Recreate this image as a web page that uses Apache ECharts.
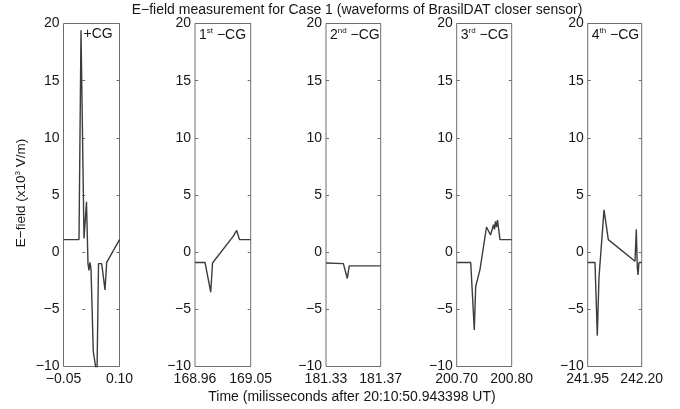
<!DOCTYPE html>
<html>
<head>
<meta charset="utf-8">
<script src="https://cdn.jsdelivr.net/npm/echarts@6/dist/echarts.min.js"></script>
<style>
  html, body { margin: 0; padding: 0; background: #fff; }
  #chart { width: 680px; height: 409px; }
</style>
</head>
<body>
<div id="chart"></div>
<script>
// Stroke labels (ordinal + superscript suffix + polarity)
const strokeNumber = ['', '1', '2', '3', '4'];
const strokeSuffix = ['', 'st', 'nd', 'rd', 'th'];
const strokeType = ['+CG', '−CG', '−CG', '−CG', '−CG'];

// Time window of each panel (ms after 20:10:50.943398 UT)
const timeMin = [-0.05, 168.96, 181.33, 200.70, 241.95];
const timeMax = [0.10, 169.05, 181.37, 200.80, 242.20];

// E-field tick values (x10^3 V/m)
const fieldTicks = [-10, -5, 0, 5, 10, 15, 20];

// +CG
const time1 = [-0.05, -0.0085, -0.0031, 0.0049, 0.0116, 0.0156, 0.0183, 0.0210, 0.0237, 0.0298, 0.0397, 0.0438, 0.0523, 0.0612, 0.0657, 0.10];
const field1 = [1.1, 1.1, 19.4, 1.2, 4.4, -1.0, -1.6, -0.9, -1.5, -8.7, -10.8, -1.0, -1.0, -3.3, -0.9, 1.1];

// 1st -CG
const time2 = [168.96, 168.9762, 168.9794, 168.9854, 168.9883, 169.0219, 169.0274, 169.0319, 169.05];
const field2 = [-0.9, -0.9, -1.0, -3.5, -0.95, 1.4, 1.9, 1.1, 1.1];

// 2nd -CG
const time3 = [181.33, 181.3427, 181.3439, 181.3456, 181.3470, 181.37];
const field3 = [-0.95, -1.0, -1.1, -2.3, -1.2, -1.2];

// 3rd -CG
const time4 = [200.70, 200.7255, 200.7320, 200.7345, 200.7424, 200.7542, 200.7615, 200.7669, 200.7687, 200.7705, 200.7724, 200.7742, 200.7787, 200.80];
const field4 = [-0.9, -0.9, -6.8, -3.0, -1.5, 2.2, 1.5, 2.4, 2.0, 2.7, 2.2, 2.8, 1.1, 1.1];

// 4th -CG
const time5 = [241.95, 241.9838, 241.9944, 242.0023, 242.0255, 242.0454, 242.169, 242.175, 242.1796, 242.1829, 242.1875, 242.20];
const field5 = [-0.9, -0.9, -7.3, -2.2, 3.7, 1.1, -0.8, 2.0, -1.3, -2.0, -0.9, -0.9];

const times = [time1, time2, time3, time4, time5];
const fields = [field1, field2, field3, field4, field5];

const FONT = '"Liberation Sans", Arial, Helvetica, sans-serif';
const TEXT = '#161616';
const BOX = '#6e6e6e';
const TRACE = '#3c3c3c';

const panelLeft = [63.5, 195, 326, 456.7, 587.7];
const panelWidth = [56, 55.7, 54.7, 55, 54];
const panelTop = 23.5;
const panelHeight = 343;

const fmtNum = (v, d) => {
  const s = Math.abs(v).toFixed(d);
  return (v < 0 ? '−' : '') + s;
};

const grids = [], xAxes = [], yAxes = [], series = [], graphics = [];

for (let i = 0; i < 5; i++) {
  grids.push({
    left: panelLeft[i], top: panelTop, width: panelWidth[i], height: panelHeight,
    show: true, borderColor: BOX, borderWidth: 1, backgroundColor: '#fff'
  });
  xAxes.push({
    type: 'value', gridIndex: i, min: timeMin[i], max: timeMax[i],
    axisLine: { show: false }, splitLine: { show: false },
    axisTick: { show: false },
    axisLabel: {
      customValues: [timeMin[i], timeMax[i]],
      formatter: v => fmtNum(v, 2),
      fontFamily: FONT, fontSize: 14, color: TEXT, margin: 6,
      showMinLabel: true, showMaxLabel: true
    }
  });
  yAxes.push({
    type: 'value', gridIndex: i, min: -10, max: 20, interval: 5,
    axisLine: { show: false }, splitLine: { show: false },
    axisTick: { show: true, inside: true, length: 3, lineStyle: { color: BOX } },
    axisLabel: {
      customValues: fieldTicks,
      formatter: v => fmtNum(v, 0),
      fontFamily: FONT, fontSize: 14, color: TEXT, margin: 4
    }
  });
  yAxes.push({
    type: 'value', gridIndex: i, position: 'right', min: -10, max: 20, interval: 5,
    axisLine: { show: false }, splitLine: { show: false },
    axisTick: { show: true, inside: true, length: 3, lineStyle: { color: BOX } },
    axisLabel: { show: false }
  });
  series.push({
    type: 'line', xAxisIndex: i, yAxisIndex: 2 * i,
    data: times[i].map((t, k) => [t, fields[i][k]]),
    showSymbol: false, symbol: 'none', clip: true,
    lineStyle: { color: TRACE, width: 1.4 },
    animation: false
  });
  const richText = strokeNumber[i]
    ? '{n|' + strokeNumber[i] + '}{s|' + strokeSuffix[i] + '}{n| ' + strokeType[i] + '}'
    : '{n|' + strokeType[i] + '}';
  graphics.push({
    type: 'text',
    left: panelLeft[i] + (i === 0 ? 20 : 4),
    top: 27,
    style: {
      text: richText,
      rich: {
        n: { fontFamily: FONT, fontSize: 14, fill: TEXT, verticalAlign: 'bottom' },
        s: { fontFamily: FONT, fontSize: 8, fill: TEXT, verticalAlign: 'top', padding: [0, 0, 7, 0] }
      }
    }
  });
}

graphics.push({
  type: 'text', x: 357, y: 3,
  style: {
    text: 'E−field measurement for Case 1 (waveforms of BrasilDAT closer sensor)',
    fontFamily: FONT, fontSize: 14, fill: TEXT, align: 'center', verticalAlign: 'top'
  }
});
graphics.push({
  type: 'text', x: 352, y: 390,
  style: {
    text: 'Time (milisseconds after 20:10:50.943398 UT)',
    fontFamily: FONT, fontSize: 14, fill: TEXT, align: 'center', verticalAlign: 'top'
  }
});
graphics.push({
  type: 'text', x: 21, y: 193, rotation: Math.PI / 2,
  style: {
    text: '{a|E−field (x10}{b|3}{a| V/m)}',
    align: 'center', verticalAlign: 'middle',
    rich: {
      a: { fontFamily: FONT, fontSize: 13.5, fill: TEXT },
      b: { fontFamily: FONT, fontSize: 8, fill: TEXT, verticalAlign: 'top', padding: [0, 0, 7, 0] }
    }
  }
});

const chart = echarts.init(document.getElementById('chart'), null, { renderer: 'canvas' });
chart.setOption({
  animation: false,
  backgroundColor: '#fff',
  grid: grids,
  xAxis: xAxes,
  yAxis: yAxes,
  series: series,
  graphic: graphics
});
</script>
</body>
</html>
